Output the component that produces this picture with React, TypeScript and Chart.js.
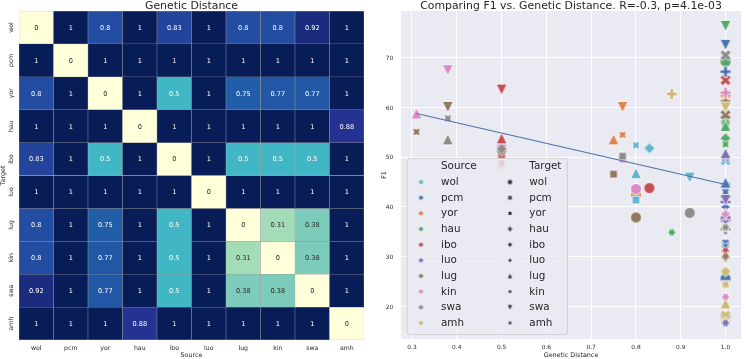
import React, { useEffect, useRef } from 'react';
import { Chart, registerables } from 'chart.js';

Chart.register(...registerables);

const FONT = '"DejaVu Sans", "Liberation Sans", sans-serif';
const TEXT = '#262626';

// ---------- data ----------
const LANGS = ['wol', 'pcm', 'yor', 'hau', 'ibo', 'luo', 'lug', 'kin', 'swa', 'amh'];
const SOURCES = LANGS;
const TARGETS = LANGS;

// Genetic distance: one row per target, columns = sources
const GD_WOL = [0, 1, 0.8, 1, 0.83, 1, 0.8, 0.8, 0.92, 1];
const GD_PCM = [1, 0, 1, 1, 1, 1, 1, 1, 1, 1];
const GD_YOR = [0.8, 1, 0, 1, 0.5, 1, 0.75, 0.77, 0.77, 1];
const GD_HAU = [1, 1, 1, 0, 1, 1, 1, 1, 1, 0.88];
const GD_IBO = [0.83, 1, 0.5, 1, 0, 1, 0.5, 0.5, 0.5, 1];
const GD_LUO = [1, 1, 1, 1, 1, 0, 1, 1, 1, 1];
const GD_LUG = [0.8, 1, 0.75, 1, 0.5, 1, 0, 0.31, 0.38, 1];
const GD_KIN = [0.8, 1, 0.77, 1, 0.5, 1, 0.31, 0, 0.38, 1];
const GD_SWA = [0.92, 1, 0.77, 1, 0.5, 1, 0.38, 0.38, 0, 1];
const GD_AMH = [1, 1, 1, 0.88, 1, 1, 1, 1, 1, 0];
const GENETIC_DISTANCE = [GD_WOL, GD_PCM, GD_YOR, GD_HAU, GD_IBO, GD_LUO, GD_LUG, GD_KIN, GD_SWA, GD_AMH];

// F1 per source language, indexed by target language (null = same language)
const F1_WOL = [null, 49.4, 41.4, 44.6, 51.8, 36.2, 46.8, 52.4, 45.9, 16.5];
const F1_PCM = [25.6, null, 32.7, 67.2, 42.0, 40.0, 44.9, 43.0, 72.6, 32.0];
const F1_YOR = [42.4, 61.6, null, 62.4, 48.5, 30.9, 53.6, 54.5, 60.1, 36.0];
const F1_HAU = [69.2, 57.6, 56.8, null, 53.8, 50.3, 56.3, 52.6, 76.4, 34.9];
const F1_IBO = [43.8, 65.5, 50.5, 35.6, null, 38.7, 53.8, 48.8, 63.6, 31.2];
const F1_LUO = [37.6, 17.6, 49.9, 41.0, 44.0, null, 50.8, 36.8, 41.4, 16.7];
const F1_LUG = [37.9, 58.5, 46.6, 61.2, 51.2, 29.8, null, 55.1, 60.1, 30.1];
const F1_KIN = [43.6, 44.2, 49.6, 63.0, 52.3, 38.5, 58.8, null, 67.5, 21.9];
const F1_SWA = [38.8, 70.5, 50.2, 35.5, 51.7, 36.3, 53.6, 57.8, null, 35.9];
const F1_AMH = [16.9, 18.2, 24.4, 62.7, 27.0, 17.0, 20.6, 24.4, 60.0, null];
const F1_BY_SOURCE = [F1_WOL, F1_PCM, F1_YOR, F1_HAU, F1_IBO, F1_LUO, F1_LUG, F1_KIN, F1_SWA, F1_AMH];

// regression line
const REG_X = [0.31, 1.0];
const REG_Y = [58.8, 44.5];

const X_TICKS = [0.3, 0.4, 0.5, 0.6, 0.7, 0.8, 0.9, 1.0];
const X_TICK_LABELS = ['0.3', '0.4', '0.5', '0.6', '0.7', '0.8', '0.9', '1.0'];
const Y_TICKS = [20, 30, 40, 50, 60, 70];
const Y_TICK_LABELS = ['20', '30', '40', '50', '60', '70'];

const HEAT_TITLE = 'Genetic Distance';
const SCATTER_TITLE = 'Comparing F1 vs. Genetic Distance. R=-0.3, p=4.1e-03';

// ---------- styles ----------
const SOURCE_COLORS = ['#64B5CD', '#4C72B0', '#DD8452', '#55A868', '#C44E52', '#8172B3', '#937860', '#DA8BC3', '#8C8C8C', '#CCB974'];
const TARGET_MARKERS = ['o', 'X', 's', 'P', 'D', 'star4', '^', 'star4x', 'v', 'star6'];
const YLGNBU = ['#ffffd9', '#edf8b1', '#c7e9b4', '#7fcdbb', '#41b6c4', '#1d91c0', '#225ea8', '#253494', '#081d58'];

function hexToRgb(h: string) {
  const n = parseInt(h.slice(1), 16);
  return [(n >> 16) & 255, (n >> 8) & 255, n & 255];
}
function cmap(v: number) {
  const t = Math.max(0, Math.min(1, v)) * 8;
  const i = Math.min(7, Math.floor(t));
  const f = t - i;
  const a = hexToRgb(YLGNBU[i]);
  const b = hexToRgb(YLGNBU[i + 1]);
  return a.map((x, k) => Math.round(x + (b[k] - x) * f));
}
function rgbStr(c: number[]) {
  return `rgb(${c[0]},${c[1]},${c[2]})`;
}
function luminance(c: number[]) {
  const l = c.map((x) => {
    const s = x / 255;
    return s <= 0.03928 ? s / 12.92 : Math.pow((s + 0.055) / 1.055, 2.4);
  });
  return 0.2126 * l[0] + 0.7152 * l[1] + 0.0722 * l[2];
}
function fmt(v: number) {
  return String(Number(v.toPrecision(2)));
}

const X_PTS = [[-1, -2], [0, -1], [1, -2], [2, -1], [1, 0], [2, 1], [1, 2], [0, 1], [-1, 2], [-2, 1], [-1, 0], [-2, -1]];
const P_PTS = [[-1, -3], [-1, -1], [-3, -1], [-3, 1], [-1, 1], [-1, 3], [1, 3], [1, 1], [3, 1], [3, -1], [1, -1], [1, -3]];

function markerPath(ctx: CanvasRenderingContext2D, shape: string, cx: number, cy: number, D: number) {
  const R = D / 2;
  ctx.beginPath();
  const poly = (pts: number[][]) => {
    pts.forEach(([x, y], i) => (i ? ctx.lineTo(cx + x, cy - y) : ctx.moveTo(cx + x, cy - y)));
    ctx.closePath();
  };
  const regular = (n: number, rot: number, star: boolean) => {
    const pts: number[][] = [];
    const total = star ? 2 * n : n;
    for (let k = 0; k < total; k++) {
      const ang = Math.PI / 2 + (k * 2 * Math.PI) / total + (rot * Math.PI) / 180;
      const r = star && k % 2 === 1 ? R * 0.5 : R;
      pts.push([r * Math.cos(ang), r * Math.sin(ang)]);
    }
    poly(pts);
  };
  switch (shape) {
    case 'o': ctx.arc(cx, cy, R, 0, Math.PI * 2); break;
    case 'X': poly(X_PTS.map(([x, y]) => [(x * D) / 4, (y * D) / 4])); break;
    case 's': regular(4, 45, false); break;
    case 'P': poly(P_PTS.map(([x, y]) => [(x * D) / 6, (y * D) / 6])); break;
    case 'D': regular(4, 0, false); break;
    case 'star4': regular(4, 0, true); break;
    case '^': poly([[0, R], [-R, -R], [R, -R]]); break;
    case 'star4x': regular(4, 45, true); break;
    case 'v': poly([[0, -R], [-R, R], [R, R]]); break;
    case 'star6': regular(6, 30, true); break;
  }
}

function makeMarker(shape: string, fill: string, D: number, lw: number) {
  const size = Math.ceil(D + lw + 4);
  const c = document.createElement('canvas');
  c.width = size;
  c.height = size;
  const ctx = c.getContext('2d')!;
  markerPath(ctx, shape, size / 2, size / 2, D);
  ctx.fillStyle = fill;
  ctx.fill();
  if (lw > 0) {
    ctx.strokeStyle = '#ffffff';
    ctx.lineWidth = lw;
    ctx.lineJoin = 'miter';
    ctx.stroke();
  }
  return c;
}

function drawText(ctx: CanvasRenderingContext2D, s: string, x: number, y: number, size: number, align: CanvasTextAlign, color = TEXT, rotate = 0) {
  ctx.save();
  ctx.font = `${size}px ${FONT}`;
  ctx.fillStyle = color;
  ctx.textAlign = align;
  ctx.textBaseline = 'alphabetic';
  ctx.translate(x, y);
  if (rotate) ctx.rotate(rotate);
  ctx.fillText(s, 0, 0);
  ctx.restore();
}

export default function App() {
  const leftRef = useRef<HTMLCanvasElement>(null);
  const rightRef = useRef<HTMLCanvasElement>(null);

  useEffect(() => {
    document.body.style.margin = '0';

    // ---------- heatmap ----------
    const heatPlugin = {
      id: 'heatText',
      afterDatasetsDraw(chart: any) {
        const ctx = chart.ctx as CanvasRenderingContext2D;
        const xs = chart.scales.x;
        const ys = chart.scales.y;
        TARGETS.forEach((_, r) => {
          const meta = chart.getDatasetMeta(r);
          GENETIC_DISTANCE[r].forEach((v, c) => {
            const el = meta.data[c];
            const cy = (el.y + el.base) / 2;
            const col = cmap(v);
            const tc = luminance(col) > 0.408 ? TEXT : '#ffffff';
            drawText(ctx, fmt(v), el.x, cy + 2.4, 6.6, 'center', tc);
          });
        });
        SOURCES.forEach((s, i) => {
          drawText(ctx, s, xs.getPixelForValue(i), 349.5, 6.2, 'center');
        });
        TARGETS.forEach((t, i) => {
          drawText(ctx, t, 13.3, ys.getPixelForValue(i + 0.5), 6.2, 'center', TEXT, -Math.PI / 2);
        });
        const ca = chart.chartArea;
        drawText(ctx, 'Source', (ca.left + ca.right) / 2, 357.2, 6.4, 'center');
        drawText(ctx, 'Target', 5.3, (ca.top + ca.bottom) / 2, 6.4, 'center', TEXT, -Math.PI / 2);
        drawText(ctx, HEAT_TITLE, (ca.left + ca.right) / 2, 8.6, 10.9, 'center');
      },
    };

    const heat = new Chart(leftRef.current!, {
      type: 'bar',
      data: {
        labels: SOURCES,
        datasets: TARGETS.map((t, r) => ({
          label: t,
          data: SOURCES.map(() => [r, r + 1]),
          backgroundColor: GENETIC_DISTANCE[r].map((v) => rgbStr(cmap(v))),
          borderColor: 'rgba(128,128,128,0.65)',
          borderWidth: 0.5,
          borderSkipped: false,
          grouped: false,
          barPercentage: 1,
          categoryPercentage: 1,
        })) as any,
      },
      options: {
        responsive: false,
        animation: false,
        events: [],
        layout: { padding: { left: 19, right: 6, top: 11, bottom: 19 } },
        plugins: { legend: { display: false }, tooltip: { enabled: false }, title: { display: false } },
        scales: {
          x: { type: 'category', display: false, offset: true },
          y: { type: 'linear', display: false, min: 0, max: 10, reverse: true },
        },
      },
      plugins: [heatPlugin],
    } as any);

    // ---------- scatter ----------
    const D = 11;
    const markerImgs = SOURCES.map((_, si) => TARGET_MARKERS.map((m) => makeMarker(m, SOURCE_COLORS[si], D, 0.8)));
    const legendSrc = SOURCES.map((_, si) => makeMarker('o', SOURCE_COLORS[si], 4.2, 0));
    const legendTgt = TARGET_MARKERS.map((m) => makeMarker(m, '#333333', 4.4, 0));

    const pts: { x: number; y: number }[] = [];
    const styles: HTMLCanvasElement[] = [];
    TARGETS.forEach((_, ti) => {
      SOURCES.forEach((_, si) => {
        const f1 = F1_BY_SOURCE[si][ti];
        if (f1 == null) return;
        pts.push({ x: GENETIC_DISTANCE[ti][si], y: f1 });
        styles.push(markerImgs[si][ti]);
      });
    });

    const scatterPlugin = {
      id: 'scatterDeco',
      beforeDraw(chart: any) {
        const ctx = chart.ctx as CanvasRenderingContext2D;
        const ca = chart.chartArea;
        ctx.save();
        ctx.fillStyle = '#EAEAF2';
        ctx.fillRect(ca.left, ca.top, ca.right - ca.left, ca.bottom - ca.top);
        ctx.restore();
      },
      afterDraw(chart: any) {
        const ctx = chart.ctx as CanvasRenderingContext2D;
        const ca = chart.chartArea;
        const xs = chart.scales.x;
        const ys = chart.scales.y;
        X_TICKS.forEach((v, i) => drawText(ctx, X_TICK_LABELS[i], xs.getPixelForValue(v), 349.4, 5.9, 'center'));
        Y_TICKS.forEach((v, i) => drawText(ctx, Y_TICK_LABELS[i], 23.3, ys.getPixelForValue(v) + 2.2, 5.9, 'right'));
        drawText(ctx, 'Genetic Distance', (ca.left + ca.right) / 2, 357.2, 6.4, 'center');
        drawText(ctx, 'F1', 15.5, (ca.top + ca.bottom) / 2, 6.4, 'center', TEXT, -Math.PI / 2);
        drawText(ctx, SCATTER_TITLE, (ca.left + ca.right) / 2, 8.6, 10.9, 'center');

        // legend
        const lx = 36.7, ly = 158, lw = 160.3, lh = 176;
        ctx.save();
        ctx.beginPath();
        (ctx as any).roundRect(lx + 0.5, ly + 0.5, lw, lh, 2.5);
        ctx.fillStyle = 'rgba(234,234,242,0.8)';
        ctx.fill();
        ctx.strokeStyle = 'rgba(204,204,204,0.8)';
        ctx.lineWidth = 1;
        ctx.stroke();
        ctx.restore();
        const base0 = 169.3, step = 15.65;
        drawText(ctx, 'Source', 71, base0, 10.4, 'left');
        drawText(ctx, 'Target', 159.3, base0, 10.4, 'left');
        SOURCES.forEach((s, i) => {
          const b = base0 + step * (i + 1);
          const m = legendSrc[i];
          ctx.drawImage(m, 51 - m.width / 2, b - 2.9 - m.height / 2);
          drawText(ctx, s, 71, b, 10.4, 'left');
        });
        TARGETS.forEach((t, i) => {
          const b = base0 + step * (i + 1);
          const m = legendTgt[i];
          ctx.drawImage(m, 140 - m.width / 2, b - 2.9 - m.height / 2);
          drawText(ctx, t, 159.3, b, 10.4, 'left');
        });
      },
    };

    const scatter = new Chart(rightRef.current!, {
      type: 'scatter',
      data: {
        datasets: [
          {
            type: 'line',
            label: 'fit',
            data: REG_X.map((x, i) => ({ x, y: REG_Y[i] })),
            borderColor: '#4C72B0',
            borderWidth: 1.1,
            pointRadius: 0,
            showLine: true,
            fill: false,
            order: 0,
          },
          {
            label: 'points',
            data: pts,
            pointStyle: styles,
            pointRadius: 5,
            order: 1,
          },
        ] as any,
      },
      options: {
        responsive: false,
        animation: false,
        events: [],
        layout: { padding: { left: 0, right: 0, top: 11, bottom: 0 } },
        plugins: { legend: { display: false }, tooltip: { enabled: false }, title: { display: false } },
        scales: {
          x: {
            type: 'linear',
            min: 0.2755,
            max: 1.0345,
            afterBuildTicks: (s: any) => { s.ticks = X_TICKS.map((v) => ({ value: v })); },
            afterFit: (s: any) => { s.height = 20; },
            ticks: { display: false },
            grid: { color: '#ffffff', lineWidth: 1, drawTicks: false },
            border: { display: false },
          },
          y: {
            type: 'linear',
            min: 13.45,
            max: 79.4,
            afterBuildTicks: (s: any) => { s.ticks = Y_TICKS.map((v) => ({ value: v })); },
            afterFit: (s: any) => { s.width = 31; },
            ticks: { display: false },
            grid: { color: '#ffffff', lineWidth: 1, drawTicks: false },
            border: { display: false },
          },
        },
      },
      plugins: [scatterPlugin],
    } as any);

    return () => {
      heat.destroy();
      scatter.destroy();
    };
  }, []);

  return (
    <div style={{ position: 'fixed', left: 0, top: 0, width: 747, height: 359, background: '#ffffff' }}>
      <canvas ref={leftRef} width={370} height={359} style={{ position: 'absolute', left: 0, top: 0 }} />
      <canvas ref={rightRef} width={377} height={359} style={{ position: 'absolute', left: 370, top: 0 }} />
    </div>
  );
}
